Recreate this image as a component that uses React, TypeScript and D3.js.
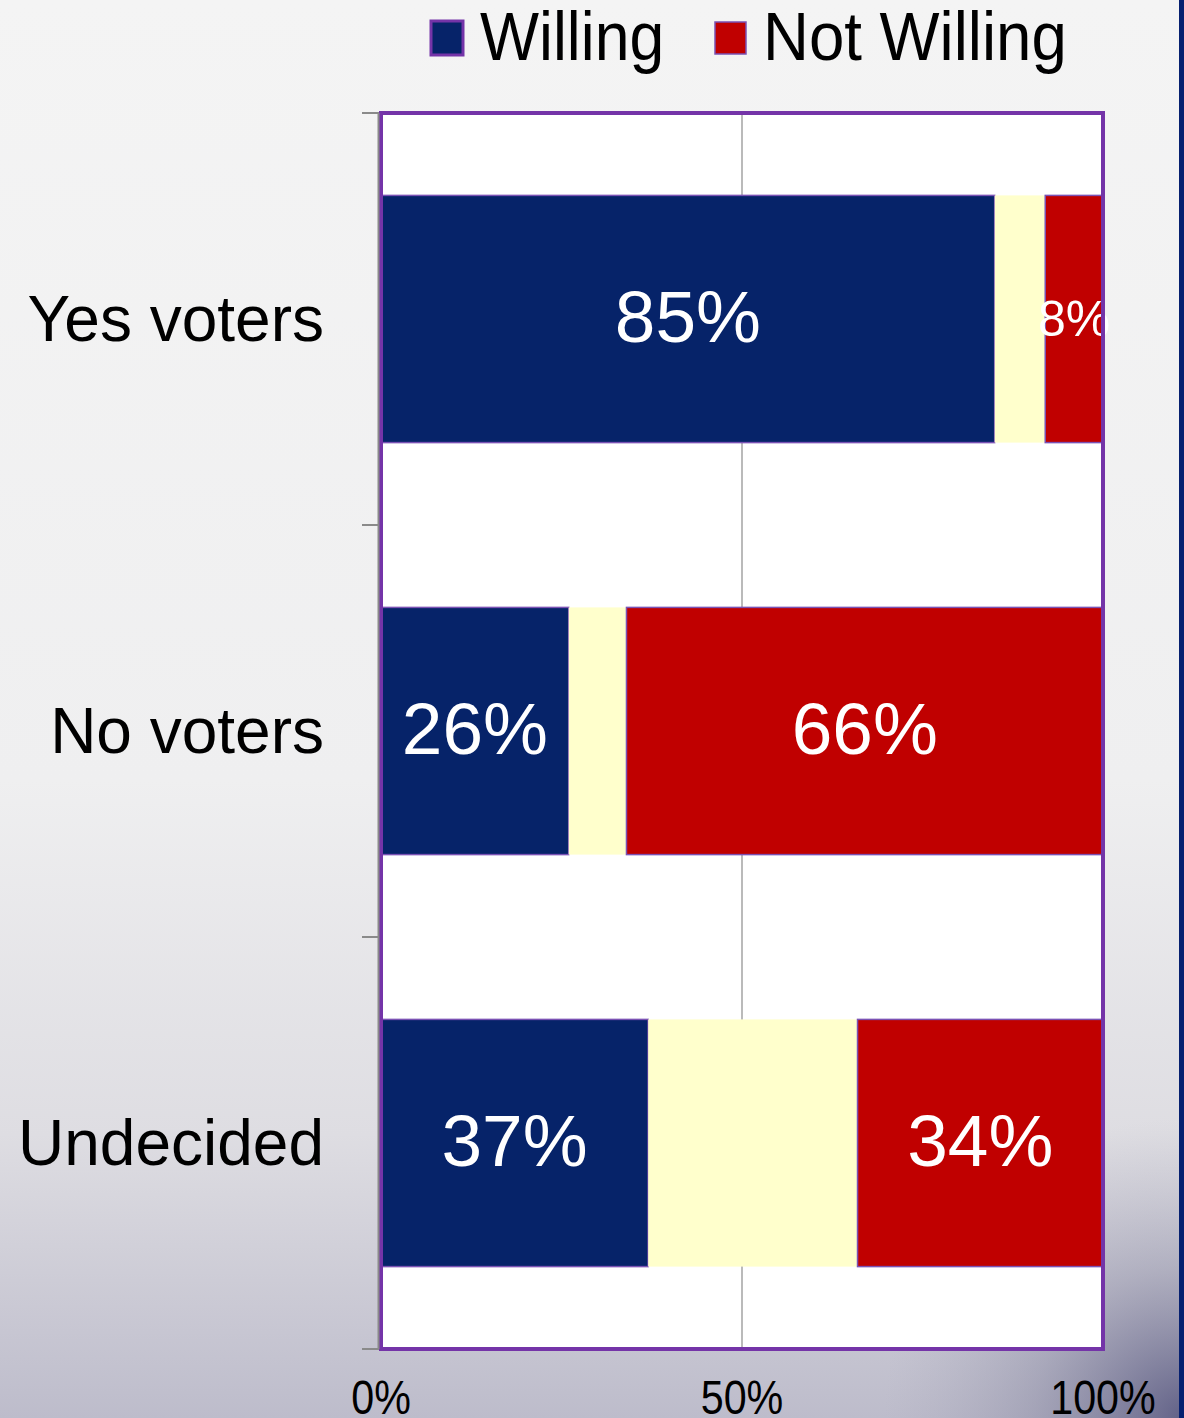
import React from "react";
import * as d3 from "d3";

const categories = ["Yes voters", "No voters", "Undecided"];
const willing = [85, 26, 37];
const neutral = [7, 8, 29];
const notWilling = [8, 66, 34];
const xTicks = [0, 50, 100];
const legendLabels = ["Willing", "Not Willing"];

const W = 1184;
const H = 1418;
const NAVY = "#062369";
const RED = "#c00000";
const CREAM = "#ffffcc";
const PURPLE = "#7434a8";

export default function App() {
  const x = d3.scaleLinear().domain([0, 100]).range([381, 1103]);
  const y = d3
    .scaleBand<string>()
    .domain(categories)
    .range([113, 1349])
    .paddingInner(0.4)
    .paddingOuter(0.2);

  const rows = categories.map((c, i) => ({
    cat: c,
    willing: willing[i],
    neutral: neutral[i],
    notWilling: notWilling[i],
  }));
  const keys = ["willing", "neutral", "notWilling"];
  const colors: Record<string, string> = { willing: NAVY, neutral: CREAM, notWilling: RED };
  const stacked = d3.stack<any>().keys(keys)(rows);

  const bandTicks = [113, 525, 937, 1349];

  return (
    <svg
      width={W}
      height={H}
      style={{ position: "absolute", left: 0, top: 0 }}
      fontFamily="'Liberation Sans', Arial, sans-serif"
    >
      <defs>
        <linearGradient id="bg" x1="0" y1="0" x2="0" y2="1">
          <stop offset="0" stopColor="#f4f4f4" />
          <stop offset="0.55" stopColor="#efeff0" />
          <stop offset="0.8" stopColor="#dedde2" />
          <stop offset="1" stopColor="#bdbccb" />
        </linearGradient>
        <radialGradient id="corner" cx="1184" cy="1418" r="300" gradientUnits="userSpaceOnUse">
          <stop offset="0" stopColor="#3a3a6a" stopOpacity="0.7" />
          <stop offset="0.5" stopColor="#6a6a8a" stopOpacity="0.3" />
          <stop offset="1" stopColor="#9a9ab0" stopOpacity="0" />
        </radialGradient>
      </defs>
      <rect x={0} y={0} width={W} height={H} fill="url(#bg)" />
      <rect x={0} y={0} width={W} height={H} fill="url(#corner)" />
      <rect x={1179} y={0} width={5} height={H} fill="#062070" />

      {/* plot area */}
      <rect x={x(0)} y={113} width={x(100) - x(0)} height={1236} fill="#ffffff" />
      {/* gridline */}
      <line x1={x(50)} x2={x(50)} y1={113} y2={1349} stroke="#8c8c8c" strokeWidth={1.2} />

      {/* bars */}
      {stacked.map((layer) => (
        <g key={layer.key}>
          {layer.map((d, i) => (
            <rect
              key={i}
              x={x(d[0])}
              y={y(categories[i])!}
              width={x(d[1]) - x(d[0])}
              height={y.bandwidth()}
              fill={colors[layer.key]}
              stroke={layer.key === "neutral" ? "none" : "#7a52b4"}
              strokeWidth={1.5}
            />
          ))}
        </g>
      ))}

      {/* value labels */}
      {stacked
        .filter((l) => l.key !== "neutral")
        .map((layer) =>
          layer.map((d, i) => {
            const v = d[1] - d[0];
            const cx = (x(d[0]) + x(d[1])) / 2;
            const cy = y(categories[i])! + y.bandwidth() / 2;
            const small = v < 15;
            return (
              <text
                key={layer.key + i}
                x={cx}
                y={cy}
                dy={small ? 17 : 23}
                textAnchor="middle"
                fill="#ffffff"
                fontSize={small ? 50 : 73}
              >
                {v}%
              </text>
            );
          })
        )}

      {/* plot border */}
      <rect
        x={x(0)}
        y={113}
        width={x(100) - x(0)}
        height={1236}
        fill="none"
        stroke={PURPLE}
        strokeWidth={4}
      />
      {/* left axis */}
      <line x1={378.5} x2={378.5} y1={113} y2={1349} stroke="#8a8a8a" strokeWidth={2} />
      {bandTicks.map((t) => (
        <line key={t} x1={362} x2={379} y1={t} y2={t} stroke="#8a8a8a" strokeWidth={2} />
      ))}

      {/* category labels */}
      {categories.map((c) => (
        <text
          key={c}
          x={324}
          y={y(c)! + y.bandwidth() / 2 + 22}
          textAnchor="end"
          fontSize={64}
          fill="#000"
        >
          {c}
        </text>
      ))}

      {/* x tick labels */}
      {xTicks.map((t) => (
        <text
          key={t}
          transform={`translate(${x(t)},1414) scale(0.86,1)`}
          textAnchor="middle"
          fontSize={48}
          fill="#000"
        >
          {t}%
        </text>
      ))}

      {/* legend */}
      <rect x={431} y={21} width={32} height={34} fill={NAVY} stroke={PURPLE} strokeWidth={3} />
      <text transform="translate(480,60) scale(0.92,1)" fontSize={68} fill="#000">
        {legendLabels[0]}
      </text>
      <rect x={715} y={22} width={31} height={32} fill={RED} stroke="#7a52b4" strokeWidth={1.5} />
      <text transform="translate(763,60) scale(0.935,1)" fontSize={68} fill="#000">
        {legendLabels[1]}
      </text>
    </svg>
  );
}
